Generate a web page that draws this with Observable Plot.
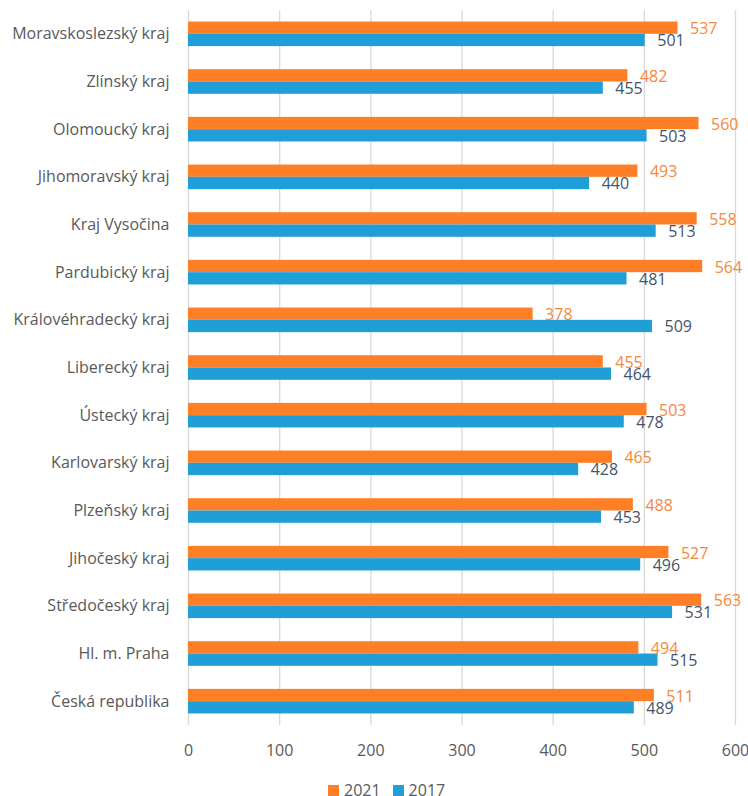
<!DOCTYPE html>
<html>
<head>
<meta charset="utf-8">
<script src="https://cdn.jsdelivr.net/npm/d3@7"></script>
<script src="https://cdn.jsdelivr.net/npm/@observablehq/plot@0.6"></script>
<style>
  body { margin: 0; background: #fff; font-family: "Open Sans", "Noto Sans", sans-serif; }
  #wrap { position: relative; width: 748px; height: 796px; overflow: hidden; }
  #legend { position: absolute; left: 328px; top: 780px; display: flex; align-items: center; font-size: 16px; color: #595959; }
  .sw { display: inline-block; width: 11px; height: 11px; margin-right: 5px; }
  .item { display: flex; align-items: center; margin-right: 12px; line-height: 20px; }
</style>
</head>
<body>
<div id="wrap">
  <div id="chart"></div>
  <div id="legend"></div>
</div>
<script>
const regions = [
  "Moravskoslezský kraj", "Zlínský kraj", "Olomoucký kraj", "Jihomoravský kraj",
  "Kraj Vysočina", "Pardubický kraj", "Královéhradecký kraj", "Liberecký kraj",
  "Ústecký kraj", "Karlovarský kraj", "Plzeňský kraj", "Jihočeský kraj",
  "Středočeský kraj", "Hl. m. Praha", "Česká republika"
];
const values2021 = [537, 482, 560, 493, 558, 564, 378, 455, 503, 465, 488, 527, 563, 494, 511];
const values2017 = [501, 455, 503, 440, 513, 481, 509, 464, 478, 428, 453, 496, 531, 515, 489];
const years = ["2021", "2017"];
const xTicks = [0, 100, 200, 300, 400, 500, 600];

const barColors = {"2021": "#FF7F27", "2017": "#1F9ED8"};
const textColors = {"2021": "#F5883C", "2017": "#44546A"};

const d2021 = regions.map((r, i) => ({region: r, year: "2021", value: values2021[i]}));
const d2017 = regions.map((r, i) => ({region: r, year: "2017", value: values2017[i]}));

const height = 775, marginTop = 10, marginBottom = 50;
const paddingInner = 0.484, paddingOuter = 0.242;
const step = (height - marginTop - marginBottom) / (regions.length - paddingInner + 2 * paddingOuter);
const half = step * (1 - paddingInner) / 2;

const font = "'Open Sans', 'Noto Sans', sans-serif";

const chart = Plot.plot({
  width: 748,
  height,
  marginTop,
  marginBottom,
  marginLeft: 188,
  marginRight: 13,
  style: {fontFamily: font, fontSize: "16px", color: "#595959", background: "#fff"},
  x: {domain: [0, 600], ticks: xTicks, label: null, tickSize: 0, tickPadding: 19},
  y: {domain: regions, label: null, tickSize: 0, tickPadding: 19, paddingInner, paddingOuter, round: false},
  marks: [
    Plot.gridX(xTicks, {stroke: "#D9D9D9", strokeOpacity: 1, strokeWidth: 1.3}),
    Plot.barX(d2021, {x: "value", y: "region", fill: barColors["2021"], insetBottom: half}),
    Plot.barX(d2017, {x: "value", y: "region", fill: barColors["2017"], insetTop: half}),
    Plot.text(d2021, {
      x: "value", y: "region", text: d => String(d.value),
      textAnchor: "start", dx: 12, dy: -5, fontSize: 16, fill: textColors["2021"]
    }),
    Plot.text(d2017, {
      x: "value", y: "region", text: d => String(d.value),
      textAnchor: "start", dx: 12, dy: 7, fontSize: 16, fill: textColors["2017"]
    })
  ]
});
chart.querySelectorAll("g[aria-label^='x-axis'], g[aria-label^='y-axis']").forEach(n => {
  n.setAttribute("font-size", "16");
  n.style.fontSize = "16px";
});
document.getElementById("chart").appendChild(chart);

const legend = document.getElementById("legend");
years.forEach(y => {
  const item = document.createElement("div");
  item.className = "item";
  const sw = document.createElement("span");
  sw.className = "sw";
  sw.style.background = barColors[y];
  item.appendChild(sw);
  item.appendChild(document.createTextNode(y));
  legend.appendChild(item);
});
</script>
</body>
</html>
